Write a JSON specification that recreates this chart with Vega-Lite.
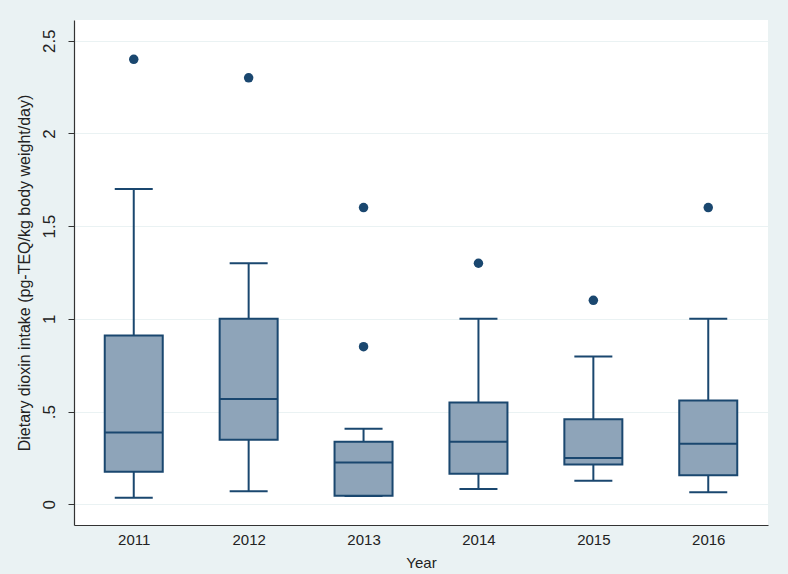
{
  "$schema": "https://vega.github.io/schema/vega-lite/v6.json",
  "width": 694,
  "height": 505,
  "autosize": "none",
  "padding": {"left": 74, "top": 20, "right": 20, "bottom": 49},
  "background": "#EAF2F3",
  "view": {"fill": "#ffffff", "stroke": "transparent", "strokeWidth": 0},
  "config": {
    "font": "Liberation Sans",
    "view": {"stroke": "transparent", "strokeWidth": 0, "fill": "#ffffff"},
    "axis": {"domainColor": "#333333", "tickColor": "#333333", "labelColor": "#222222", "titleColor": "#222222", "titleFontWeight": "normal"}
  },
  "datasets": {
    "boxes": [
      {"year": "2011", "lower": 0.035, "q1": 0.175, "median": 0.387, "q3": 0.91, "upper": 1.70},
      {"year": "2012", "lower": 0.07, "q1": 0.348, "median": 0.567, "q3": 1.0, "upper": 1.30},
      {"year": "2013", "lower": 0.045, "q1": 0.046, "median": 0.225, "q3": 0.337, "upper": 0.407},
      {"year": "2014", "lower": 0.082, "q1": 0.164, "median": 0.337, "q3": 0.549, "upper": 1.0},
      {"year": "2015", "lower": 0.127, "q1": 0.215, "median": 0.249, "q3": 0.459, "upper": 0.797},
      {"year": "2016", "lower": 0.064, "q1": 0.157, "median": 0.326, "q3": 0.56, "upper": 1.0}
    ],
    "outliers": [
      {"year": "2011", "value": 2.4},
      {"year": "2012", "value": 2.3},
      {"year": "2013", "value": 0.85},
      {"year": "2013", "value": 1.6},
      {"year": "2014", "value": 1.3},
      {"year": "2015", "value": 1.1},
      {"year": "2016", "value": 1.6}
    ]
  },
  "data": {"name": "boxes"},
  "encoding": {
    "x": {
      "field": "year", "type": "ordinal",
      "scale": {"type": "point", "padding": 0.52},
      "axis": {"title": "Year", "labelAngle": 0, "ticks": false, "grid": false, "labelFontSize": 15, "labelPadding": 7, "titleFontSize": 15, "titlePadding": 8, "domainWidth": 1.2}
    }
  },
  "layer": [
    {
      "mark": {"type": "rule", "stroke": "#1a476f", "strokeWidth": 2},
      "encoding": {
        "y": {
          "field": "lower", "type": "quantitative",
          "scale": {"domain": [-0.112, 2.612], "nice": false, "zero": false},
          "axis": {
            "title": "Dietary dioxin intake (pg-TEQ/kg body weight/day)",
            "values": [0, 0.5, 1, 1.5, 2, 2.5],
            "labelExpr": "datum.value == 0.5 ? '.5' : format(datum.value, '~g')",
            "labelAngle": -90, "labelAlign": "center", "labelBaseline": "bottom",
            "labelFontSize": 17, "labelPadding": 10, "tickSize": 6,
            "grid": true, "gridColor": "#EAF2F3", "gridWidth": 1.2,
            "titleFontSize": 16, "titlePadding": 8, "domainWidth": 1.2
          }
        },
        "y2": {"field": "q1"}
      }
    },
    {
      "mark": {"type": "rule", "stroke": "#1a476f", "strokeWidth": 2},
      "encoding": {
        "y": {"field": "q3", "type": "quantitative", "title": "Dietary dioxin intake (pg-TEQ/kg body weight/day)"},
        "y2": {"field": "upper"}
      }
    },
    {
      "mark": {"type": "tick", "color": "#1a476f", "size": 38, "thickness": 2, "opacity": 1},
      "encoding": {"y": {"field": "lower", "type": "quantitative", "title": "Dietary dioxin intake (pg-TEQ/kg body weight/day)"}}
    },
    {
      "mark": {"type": "tick", "color": "#1a476f", "size": 38, "thickness": 2, "opacity": 1},
      "encoding": {"y": {"field": "upper", "type": "quantitative", "title": "Dietary dioxin intake (pg-TEQ/kg body weight/day)"}}
    },
    {
      "mark": {"type": "bar", "size": 58, "fill": "#8ea4b9", "stroke": "#1a476f", "strokeWidth": 2},
      "encoding": {
        "y": {"field": "q1", "type": "quantitative", "title": "Dietary dioxin intake (pg-TEQ/kg body weight/day)"},
        "y2": {"field": "q3"}
      }
    },
    {
      "mark": {"type": "tick", "color": "#1a476f", "size": 58, "thickness": 2, "opacity": 1},
      "encoding": {"y": {"field": "median", "type": "quantitative", "title": "Dietary dioxin intake (pg-TEQ/kg body weight/day)"}}
    },
    {
      "data": {"name": "outliers"},
      "mark": {"type": "point", "filled": true, "color": "#1a476f", "size": 90, "opacity": 1},
      "encoding": {"y": {"field": "value", "type": "quantitative", "title": "Dietary dioxin intake (pg-TEQ/kg body weight/day)"}}
    }
  ]
}
